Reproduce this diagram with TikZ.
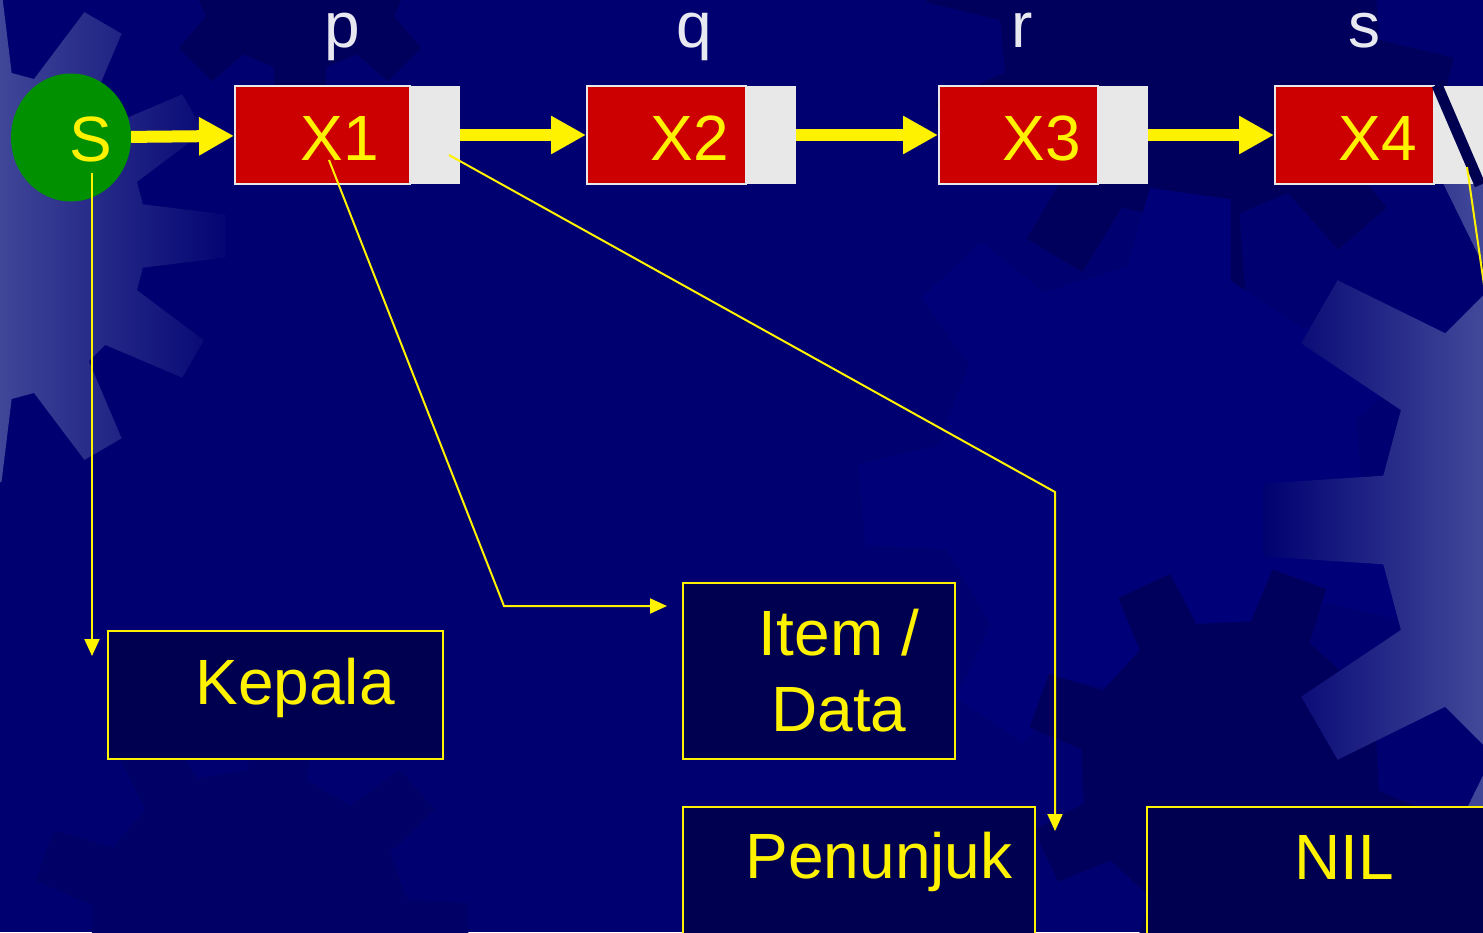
\documentclass[tikz,border=0pt]{standalone}
\usepackage{fontspec}
\setmainfont{Liberation Sans}
\usetikzlibrary{arrows.meta,shapes.geometric}
\definecolor{bgnavy}{RGB}{0,0,112}
\definecolor{navylite}{RGB}{0,0,121}
\definecolor{navydark}{RGB}{0,0,92}
\definecolor{navydim}{RGB}{0,0,102}
\definecolor{boxnavy}{RGB}{0,0,80}
\definecolor{gearlite}{RGB}{64,70,152}
\definecolor{cellred}{RGB}{204,0,0}
\definecolor{cellgrey}{RGB}{232,232,232}
\definecolor{labgrey}{RGB}{232,232,240}
\definecolor{sgreen}{RGB}{0,144,0}
\definecolor{slashnavy}{RGB}{0,0,80}
% gear outline: #1 r, #2 R, #3 teeth, #4 base half angle, #5 tip half angle, #6 start angle
\newcommand\gearpath[6]{%
  ({#6-#4}:#1) \foreach \i [evaluate=\i as \ga using #6+(\i-1)*360/#3] in {1,...,#3} {%
    -- ({\ga-#4}:#1) -- ({\ga-#5}:#2) -- ({\ga+#5}:#2) -- ({\ga+#4}:#1)} -- cycle}
\tikzset{
  cellr/.style={draw=cellgrey, line width=2pt, fill=cellred, minimum height=98pt, inner sep=0pt},
  cellg/.style={fill=cellgrey, minimum height=98pt, inner sep=0pt},
  bigtext/.style={font=\fontsize{64}{64}\selectfont, anchor=base, inner sep=0pt},
  celltext/.style={bigtext, text=yellow},
  toplabel/.style={bigtext, text=labgrey},
  lblbox/.style={draw=yellow, line width=2.5pt, fill=boxnavy, inner sep=0pt},
  fatarrow/.style={draw=yellow, line width=12pt, -{Triangle[length=35pt,width=36pt]}},
  thinarrow/.style={draw=yellow, line width=2pt, -{Triangle[length=17pt,width=15pt]}},
  thinline/.style={draw=yellow, line width=2pt},
}
\begin{document}
\begin{tikzpicture}[x=1pt,y=-1pt]
\useasboundingbox (0,0) rectangle (1483,932);
\clip (0,0) rectangle (1483,932);
% background
\fill[bgnavy] (0,0) rectangle (1483,932);
% subtle background gears
\fill[navydark, shift={(300,-40)}] \gearpath{110}{150}{8}{14}{9}{90};
\fill[navydark, shift={(1190,30)}] \gearpath{190}{265}{10}{10}{7}{85};
\fill[navydim, shift={(250,930)}] \gearpath{160}{220}{9}{11}{7}{0};
\fill[navylite, shift={(1150,480)}] \gearpath{215}{292}{7}{14}{8}{278};
\fill[navydark, shift={(1230,770)}] \gearpath{150}{205}{8}{12}{8}{20};
% left light gear
\begin{scope}
  \clip[shift={(-20,236)}] \gearpath{166}{247}{12}{11}{5}{0};
  \shade[left color=gearlite, right color=bgnavy] (0,-20) rectangle (240,520);
\end{scope}
% right light gear
\begin{scope}
  \clip[shift={(1680,520)}] \gearpath{300}{418}{12}{8.5}{5}{0};
  \shade[left color=bgnavy, right color=gearlite] (1262,0) rectangle (1475,932);
  \fill[gearlite] (1474,0) rectangle (1483,932);
\end{scope}

% label boxes
\node[lblbox, minimum width=335pt, minimum height=128pt] (kepala) at (275.5,695) {};
\node[lblbox, minimum width=272pt, minimum height=176pt] (item) at (819,671) {};
\node[lblbox, minimum width=352pt, minimum height=153pt] (penunjuk) at (859,883.5) {};
\node[lblbox, minimum width=373pt, minimum height=153pt] (nil) at (1333.5,883.5) {};
\node[celltext] (tkepala) at (295,704) {Kepala};
\node[celltext] (titem) at (839,655) {Item /};
\node[celltext] (tdata) at (839,731) {Data};
\node[celltext] (tpenunjuk) at (879,878) {Penunjuk};
\node[celltext] (tnil) at (1344,879) {NIL};

% head circle
\node[ellipse, fill=sgreen, minimum width=120pt, minimum height=128pt, inner sep=0pt] (S) at (71,137.5) {};
\node[celltext] (tS) at (90.5,161) {S};

% list cells
\node[cellr, minimum width=175pt] (c1) at (322.5,135) {};
\node[cellg, minimum width=49pt] (g1) at (435.5,135) {};
\node[cellr, minimum width=159pt] (c2) at (666.5,135) {};
\node[cellg, minimum width=50pt] (g2) at (771,135) {};
\node[cellr, minimum width=159pt] (c3) at (1018.5,135) {};
\node[cellg, minimum width=50pt] (g3) at (1123,135) {};
\node[cellr, minimum width=159pt] (c4) at (1354.5,135) {};
\node[cellg, minimum width=70pt] (g4) at (1469,135) {};
\coordinate (sl1) at (1437,85);
\coordinate (sl2) at (1480,185);
\draw[slashnavy, line width=11pt] (sl1) -- (sl2);

\node[celltext] (t1) at (340,160) {X1};
\node[celltext] (t2) at (690,160) {X2};
\node[celltext] (t3) at (1042,160) {X3};
\node[celltext] (t4) at (1378,160) {X4};

% pointer names
\node[toplabel] (lp) at (342,47) {p};
\node[toplabel] (lq) at (694,47) {q};
\node[toplabel] (lr) at (1022,47) {r};
\node[toplabel] (ls) at (1364,47) {s};

% thick link arrows
\draw[fatarrow] (S) -- (c1);
\draw[fatarrow] (g1) -- (c2);
\draw[fatarrow] (g2) -- (c3);
\draw[fatarrow] (g3) -- (c4);

% thin explanation connectors
\coordinate (a1) at (92,173);
\coordinate (a2) at (92,656);
\coordinate (b1) at (329,160);
\coordinate (b2) at (504,606);
\coordinate (b3) at (667,606);
\coordinate (d1) at (449,155);
\coordinate (d2) at (1055,492);
\coordinate (d3) at (1055,831);
\coordinate (e1) at (1467,167);
\coordinate (e2) at (1497,375);
\draw[thinarrow] (a1) -- (a2);
\draw[thinarrow] (b1) -- (b2) -- (b3);
\draw[thinarrow] (d1) -- (d2) -- (d3);
\draw[thinline] (e1) -- (e2);
\end{tikzpicture}
\end{document}
